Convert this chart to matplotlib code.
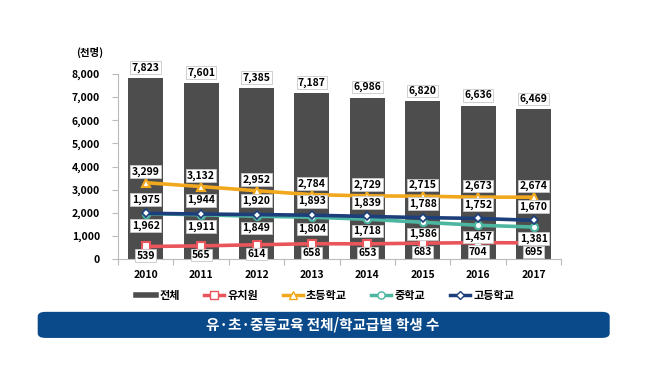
import numpy as np
import matplotlib
matplotlib.use("Agg")
import matplotlib.pyplot as plt
from matplotlib.patches import FancyBboxPatch
from matplotlib.lines import Line2D

plt.rcParams['font.family'] = ['Noto Sans CJK KR', 'DejaVu Sans']
plt.rcParams['font.weight'] = 'bold'

# data (천명)
years = ['2010', '2011', '2012', '2013', '2014', '2015', '2016', '2017']
total = [7823, 7601, 7385, 7187, 6986, 6820, 6636, 6469]
kinder = [539, 565, 614, 658, 653, 683, 704, 695]
elem = [3299, 3132, 2952, 2784, 2729, 2715, 2673, 2674]
middle = [1962, 1911, 1849, 1804, 1718, 1586, 1457, 1381]
high = [1975, 1944, 1920, 1893, 1839, 1788, 1752, 1670]

series_names = ['전체', '유치원', '초등학교', '중학교', '고등학교']

bar_color = '#4d4d4d'
c_kinder = '#e9555b'
c_elem = '#f2a81c'
c_middle = '#4db6a1'
c_high = '#1c3f7c'

fig = plt.figure(figsize=(6.5, 3.78), dpi=100)
ax = fig.add_axes([0.1815, 0.315, 0.682, 0.489])

x = np.arange(len(years))
ax.bar(x, total, width=0.63, color=bar_color, zorder=2)

line_kw = dict(linewidth=2.6, markersize=5.2, markerfacecolor='white',
               markeredgewidth=1.5, zorder=3)
ax.plot(x, kinder, color=c_kinder, marker='s', markeredgecolor=c_kinder, **line_kw)
ax.plot(x, elem, color=c_elem, marker='^', markeredgecolor=c_elem, **line_kw)
ax.plot(x, middle, color=c_middle, marker='o', markeredgecolor=c_middle, **line_kw)
ax.plot(x, high, color=c_high, marker='D', markeredgecolor=c_high,
        linewidth=2.6, markersize=4, markerfacecolor='white',
        markeredgewidth=1.2, zorder=3)

box = dict(boxstyle='square,pad=0.12', fc='white', ec='#c8c8c8', lw=0.6)


def label(vals, dy):
    for xi, v in zip(x, vals):
        ax.annotate(f'{v:,}', (xi, v), xytext=(0, dy), textcoords='offset points',
                    ha='center', va='center', fontsize=7.5, fontweight='bold',
                    bbox=box, zorder=5)


label(total, 7.5)
label(elem, 8)
label(high, 10)
label(middle, -8.5)
label(kinder, -6.5)

ax.set_xlim(-0.5, len(years) - 0.5)
ax.set_ylim(0, 8000)
ax.set_yticks(np.arange(0, 8001, 1000))
ax.set_yticklabels([f'{v:,}' for v in range(0, 8001, 1000)])
ax.set_xticks(x)
ax.set_xticklabels(years)
ax.tick_params(axis='both', labelsize=7.5, colors='#bbbbbb', labelcolor='black',
               length=4, width=0.8)
ax.tick_params(axis='x', length=0, pad=8)
ax.yaxis.set_tick_params(pad=9)
for s in ['top', 'right']:
    ax.spines[s].set_visible(False)
for s in ['left', 'bottom']:
    ax.spines[s].set_color('#bbbbbb')
for lab in ax.get_xticklabels() + ax.get_yticklabels():
    lab.set_fontweight('bold')
# category separator ticks on the x axis
ax.set_xticks(np.arange(-0.5, len(years), 1), minor=True)
ax.tick_params(axis='x', which='minor', length=4, color='#bbbbbb', width=0.8)

fig.text(0.138, 0.862, '(천명)', fontsize=7.5, fontweight='bold', ha='center', va='center')

handles = [
    Line2D([], [], color=bar_color, linewidth=4),
    Line2D([], [], color=c_kinder, marker='s', markerfacecolor='white', markeredgecolor=c_kinder, linewidth=2.5, markersize=5.2),
    Line2D([], [], color=c_elem, marker='^', markerfacecolor='white', markeredgecolor=c_elem, linewidth=2.5, markersize=5.2),
    Line2D([], [], color=c_middle, marker='o', markerfacecolor='white', markeredgecolor=c_middle, linewidth=2.5, markersize=5.2),
    Line2D([], [], color=c_high, marker='D', markerfacecolor='white', markeredgecolor=c_high, linewidth=2.5, markersize=4),
]
fig.legend(handles, series_names, loc='center', bbox_to_anchor=(0.5, 0.218), ncol=5,
           frameon=False, handlelength=1.8, handletextpad=0.3,
           columnspacing=2.2, prop={'weight': 'bold', 'size': 8})

banner = FancyBboxPatch((0.058, 0.106), 0.88, 0.069, boxstyle='round,pad=0,rounding_size=0.012',
                        transform=fig.transFigure, fc='#0b4a8a', ec='none')
fig.patches.append(banner)
fig.text(0.497, 0.141, '유·초·중등교육 전체/학교급별 학생 수', color='white', fontsize=10.5,
         fontweight='bold', ha='center', va='center')

fig.savefig('out.png', dpi=100)
